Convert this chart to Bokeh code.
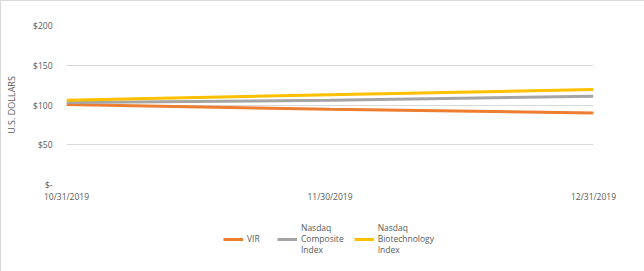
from bokeh.plotting import figure
from bokeh.layouts import column
from bokeh.models import FixedTicker, Legend, LegendItem
from bokeh.embed import file_html
from bokeh.resources import INLINE

dates = ["10/31/2019", "11/30/2019", "12/31/2019"]
vir = [100.5, 94.6, 90.0]
nasdaq_comp = [103.0, 106.0, 111.0]
nasdaq_bio = [106.0, 113.0, 119.5]
y_ticks = [0, 50, 100, 150, 200]
y_tick_labels = ["$-", "$50", "$100", "$150", "$200"]
series_names = ["VIR", "Nasdaq\nComposite\nIndex", "Nasdaq\nBiotechnology\nIndex"]
series_colors = ["#ED7D31", "#A5A5A5", "#FFC000"]

FONT = "Open Sans"
TXT = "#595959"

xs = list(range(len(dates)))
series = [vir, nasdaq_comp, nasdaq_bio]

p = figure(width=644, height=211, output_backend="svg", toolbar_location=None,
           x_range=(0, 2), y_range=(0, 200),
           min_border_left=65, min_border_right=52, min_border_top=24, min_border_bottom=28)
p.outline_line_color = None
p.background_fill_color = "white"
p.border_fill_color = "white"

for vals, c in zip(series, series_colors):
    p.line(xs, vals, line_color=c, line_width=3)

p.xaxis.ticker = FixedTicker(ticks=xs)
p.xaxis.major_label_overrides = {i: d for i, d in zip(xs, dates)}
p.yaxis.ticker = FixedTicker(ticks=y_ticks)
p.yaxis.major_label_overrides = {t: l for t, l in zip(y_ticks, y_tick_labels)}

for ax in (p.xaxis, p.yaxis):
    ax.axis_line_color = None
    ax.major_tick_line_color = None
    ax.minor_tick_line_color = None
    ax.major_label_text_font = FONT
    ax.major_label_text_font_size = "8.5px"
    ax.major_label_text_color = TXT
p.xaxis.major_tick_out = 0
p.xaxis.major_label_standoff = 6
p.yaxis.major_label_standoff = 8

p.yaxis.axis_label = "U.S. DOLLARS"
p.yaxis.axis_label_text_font = FONT
p.yaxis.axis_label_text_font_size = "9px"
p.yaxis.axis_label_text_font_style = "normal"
p.yaxis.axis_label_text_color = TXT
p.yaxis.axis_label_standoff = 12

p.xgrid.grid_line_color = None
p.ygrid.grid_line_color = "#D9D9D9"
p.ygrid.grid_line_width = 1

# legend strip below the chart (series kept out of its view; only the legend shows)
pl = figure(width=644, height=60, output_backend="svg", toolbar_location=None,
            x_range=(100, 101), y_range=(1000, 1001), min_border=0)
pl.axis.visible = False
pl.grid.visible = False
pl.outline_line_color = None
pl.border_fill_color = "white"
pl.background_fill_color = "white"
items = []
for name, vals, c in zip(series_names, series, series_colors):
    r = pl.line(xs, vals, line_color=c, line_width=3)
    items.append(LegendItem(label=name, renderers=[r]))

legend = Legend(items=items, orientation="horizontal", location=(157, 17))
legend.label_text_font = FONT
legend.label_text_font_size = "8.5px"
legend.label_text_color = TXT
legend.glyph_width = 20
legend.glyph_height = 10
legend.label_standoff = 4
legend.spacing = 10
legend.border_line_color = None
legend.background_fill_alpha = 0
legend.margin = 0
legend.padding = 0
pl.add_layout(legend, "center")

layout = column(p, pl, spacing=0)
layout.styles = {"border": "1px solid #d9d9d9", "box-sizing": "border-box"}

open("out.html", "w").write(file_html(layout, INLINE))
